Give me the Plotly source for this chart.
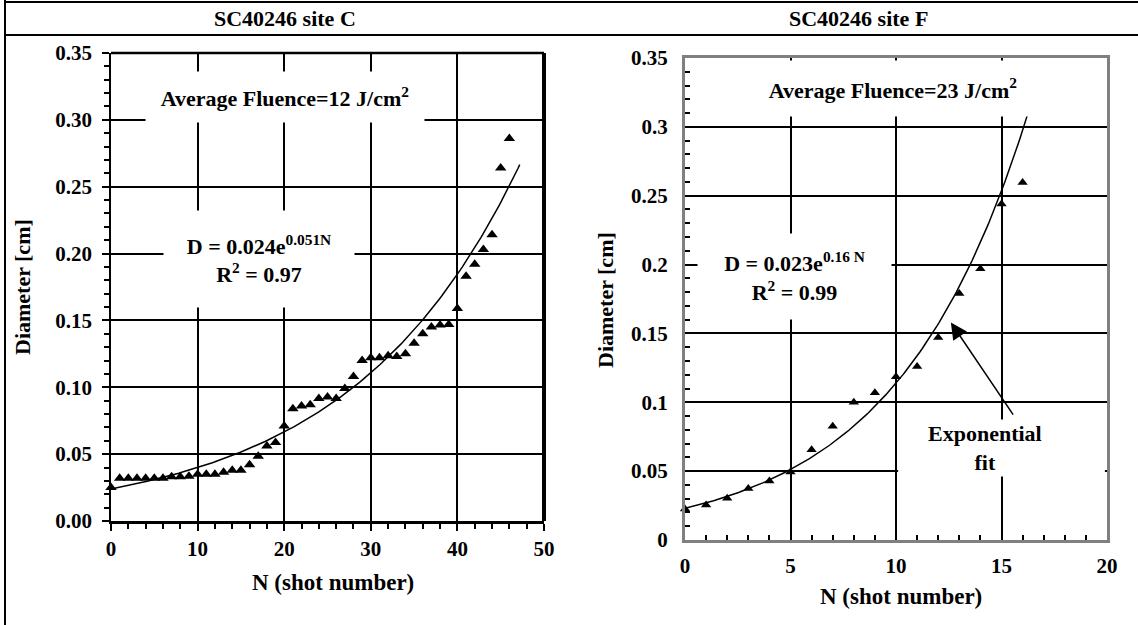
import numpy as np
import plotly.graph_objects as go

# ---------------- data ----------------
# Site C
N_C = list(range(0, 47))
D_C = [0.025, 0.032, 0.032, 0.032, 0.032, 0.032, 0.032, 0.033, 0.033, 0.0335,
       0.035, 0.035, 0.035, 0.0365, 0.038, 0.038, 0.042, 0.0485, 0.056, 0.0587,
       0.071, 0.084, 0.086, 0.087, 0.0916, 0.0928, 0.0916, 0.099, 0.108, 0.120,
       0.122, 0.122, 0.1235, 0.123, 0.125, 0.133, 0.140, 0.145, 0.1465, 0.147,
       0.159, 0.183, 0.192, 0.203, 0.214, 0.264, 0.286]
FIT_C = (0.024, 0.051)   # D = a*exp(b*N), as printed on the chart
FIT_C_NMAX = 47.2

# Site F
N_F = list(range(0, 17))
D_F = [0.0226, 0.0255, 0.0303, 0.0374, 0.0429, 0.0493, 0.0655, 0.0826, 0.100,
       0.107, 0.1185, 0.126, 0.147, 0.179, 0.197, 0.244, 0.2596]
FIT_F = (0.023, 0.16)
FIT_F_NMAX = 16.3

TITLE_C = "SC40246 site C"
TITLE_F = "SC40246 site F"

# --------------------------------------
W, H = 1138, 625
FONT = "Liberation Serif"


def px(x):
    return x / W


def py(y):
    return 1 - y / H


fc = np.linspace(0, FIT_C_NMAX, 200)
ff = np.linspace(0, FIT_F_NMAX, 200)

fig = go.Figure()
fig.add_trace(go.Scatter(x=fc, y=FIT_C[0] * np.exp(FIT_C[1] * fc), mode="lines",
                         line=dict(color="black", width=1.5), xaxis="x", yaxis="y",
                         showlegend=False, hoverinfo="skip"))
fig.add_trace(go.Scatter(x=N_C, y=D_C, mode="markers",
                         marker=dict(symbol="triangle-up", size=10, color="black"),
                         xaxis="x", yaxis="y", showlegend=False, cliponaxis=False))
fig.add_trace(go.Scatter(x=ff, y=FIT_F[0] * np.exp(FIT_F[1] * ff), mode="lines",
                         line=dict(color="black", width=1.5), xaxis="x2", yaxis="y2",
                         showlegend=False, hoverinfo="skip"))
fig.add_trace(go.Scatter(x=N_F, y=D_F, mode="markers",
                         marker=dict(symbol="triangle-up", size=9, color="black"),
                         xaxis="x2", yaxis="y2", showlegend=False, cliponaxis=False))

tickfont = dict(family=FONT, size=21, color="black", weight="bold")

fig.update_layout(
    width=W, height=H, autosize=False,
    margin=dict(l=0, r=0, t=0, b=0, pad=0, autoexpand=False),
    paper_bgcolor="white", plot_bgcolor="white",
    showlegend=False,
    font=dict(family=FONT, color="black"),
    xaxis=dict(domain=[px(111), px(544)], range=[0, 50], anchor="y",
               tick0=0, dtick=10, ticks="outside", ticklen=7, tickwidth=2,
               tickcolor="black", minor=dict(dtick=2, ticks="outside", ticklen=5,
                                             tickwidth=1.5, tickcolor="black"),
               showgrid=True, gridcolor="black", gridwidth=2, zeroline=False,
               showline=True, linecolor="black", linewidth=3, automargin=False,
               tickfont=tickfont, ticklabelstandoff=0),
    yaxis=dict(domain=[py(521), py(53)], range=[0, 0.35], anchor="x",
               tick0=0, dtick=0.05, tickformat=".2f", ticks="outside", ticklen=7,
               tickwidth=2, tickcolor="black",
               minor=dict(dtick=0.01, ticks="outside", ticklen=5, tickwidth=1.5,
                          tickcolor="black"),
               showgrid=True, gridcolor="black", gridwidth=2, zeroline=False,
               showline=True, linecolor="black", linewidth=1.5, automargin=False,
               tickfont=tickfont, ticklabelstandoff=6),
    xaxis2=dict(domain=[px(685), px(1107)], range=[0, 20], anchor="y2",
                tick0=0, dtick=5, ticks="inside", ticklen=6, tickwidth=2,
                tickcolor="black", minor=dict(dtick=1, ticks="inside", ticklen=5,
                                              tickwidth=1.5, tickcolor="black"),
                showgrid=True, gridcolor="black", gridwidth=2, zeroline=False,
                showline=True, mirror=True, linecolor="#808080", linewidth=3,
                automargin=False, tickfont=tickfont, ticklabelstandoff=5),
    yaxis2=dict(domain=[py(540), py(58)], range=[0, 0.35], anchor="x2",
                tick0=0, dtick=0.05, ticks="inside", ticklen=6, tickwidth=2,
                tickcolor="black",
                minor=dict(dtick=0.01, ticks="inside", ticklen=5, tickwidth=1.5,
                           tickcolor="black"),
                showgrid=True, gridcolor="black", gridwidth=2, zeroline=False,
                showline=True, mirror=True, linecolor="#808080", linewidth=3,
                automargin=False, tickfont=tickfont, ticklabelstandoff=10),
)

shapes = [
    # table lines
    dict(type="line", xref="paper", yref="paper", x0=px(5), x1=1, y0=py(2), y1=py(2),
         line=dict(color="black", width=2)),
    dict(type="line", xref="paper", yref="paper", x0=px(5), x1=1, y0=py(35), y1=py(35),
         line=dict(color="black", width=2)),
    dict(type="line", xref="paper", yref="paper", x0=px(5), x1=px(5), y0=0, y1=1,
         line=dict(color="black", width=2)),
    # left plot frame
    dict(type="line", xref="x domain", yref="y domain", x0=0, x1=1, y0=1, y1=1,
         line=dict(color="black", width=2.5)),
    dict(type="line", xref="x domain", yref="y domain", x0=1, x1=1, y0=0, y1=1,
         line=dict(color="black", width=4)),
    # partial 0.05 grid on right plot
    dict(type="rect", xref="x2", yref="y2", x0=10.1, x1=14.9, y0=0.0485, y1=0.0515,
         fillcolor="white", line=dict(width=0), layer="between"),
    dict(type="rect", xref="x2", yref="y2", x0=15.1, x1=19.9, y0=0.0485, y1=0.0515,
         fillcolor="white", line=dict(width=0), layer="between"),
]
fig.update_layout(shapes=shapes)

afont = dict(family=FONT, size=22, color="black", weight="bold")
titlefont = dict(family=FONT, size=22, color="black", weight="bold")
C = dict(xanchor="center", yanchor="middle", showarrow=False)

ann = [
    dict(text=TITLE_C, x=px(285), y=py(18), xref="paper", yref="paper",
         font=titlefont, **C),
    dict(text=TITLE_F, x=px(858), y=py(18), xref="paper", yref="paper",
         font=titlefont, **C),
    dict(text="Diameter [cm]", x=px(22), y=py(287), xref="paper", yref="paper",
         textangle=-90, font=titlefont, **C),
    dict(text="Diameter [cm]", x=px(605), y=py(300), xref="paper", yref="paper",
         textangle=-90, font=titlefont, **C),
    dict(text="N (shot number)", x=px(333), y=py(582), xref="paper", yref="paper",
         font=dict(family=FONT, size=23, color="black", weight="bold"), **C),
    dict(text="N (shot number)", x=px(901), y=py(596), xref="paper", yref="paper",
         font=dict(family=FONT, size=23, color="black", weight="bold"), **C),
    # left plot texts
    dict(text="Average Fluence=12 J/cm<sup>2</sup>", x=20.1, y=0.317, xref="x", yref="y",
         font=afont, bgcolor="white", width=276, height=48, **C),
    dict(text="D = 0.024e<sup>0.051N</sup><br>R<sup>2</sup> = 0.97", x=17.1, y=0.196,
         xref="x", yref="y", font=afont, bgcolor="white",
         width=188, height=94, **C),
    # right plot texts
    dict(text="Average Fluence=23 J/cm<sup>2</sup>", x=9.86, y=0.3275, xref="x2", yref="y2",
         font=afont, bgcolor="white", width=290, height=53, **C),
    dict(text="D = 0.023e<sup>0.16 N</sup><br>R<sup>2</sup> = 0.99", x=5.2, y=0.191,
         xref="x2", yref="y2", font=afont, bgcolor="white",
         width=191, height=83, **C),
    dict(text="Exponential<br>fit", x=14.2, y=0.0668, xref="x2", yref="y2",
         font=afont, bgcolor="white", **C),
    dict(text="", x=12.6, y=0.158, ax=15.6, ay=0.09, xref="x2", yref="y2",
         axref="x2", ayref="y2", showarrow=True, arrowhead=2, arrowsize=2.2,
         arrowwidth=1.5, arrowcolor="black"),
]
fig.update_layout(annotations=ann)

fig.write_html("out.html", config={"displayModeBar": False, "responsive": False},
               post_script="document.body.style.margin='0';"
                           "document.body.style.overflow='hidden';")
